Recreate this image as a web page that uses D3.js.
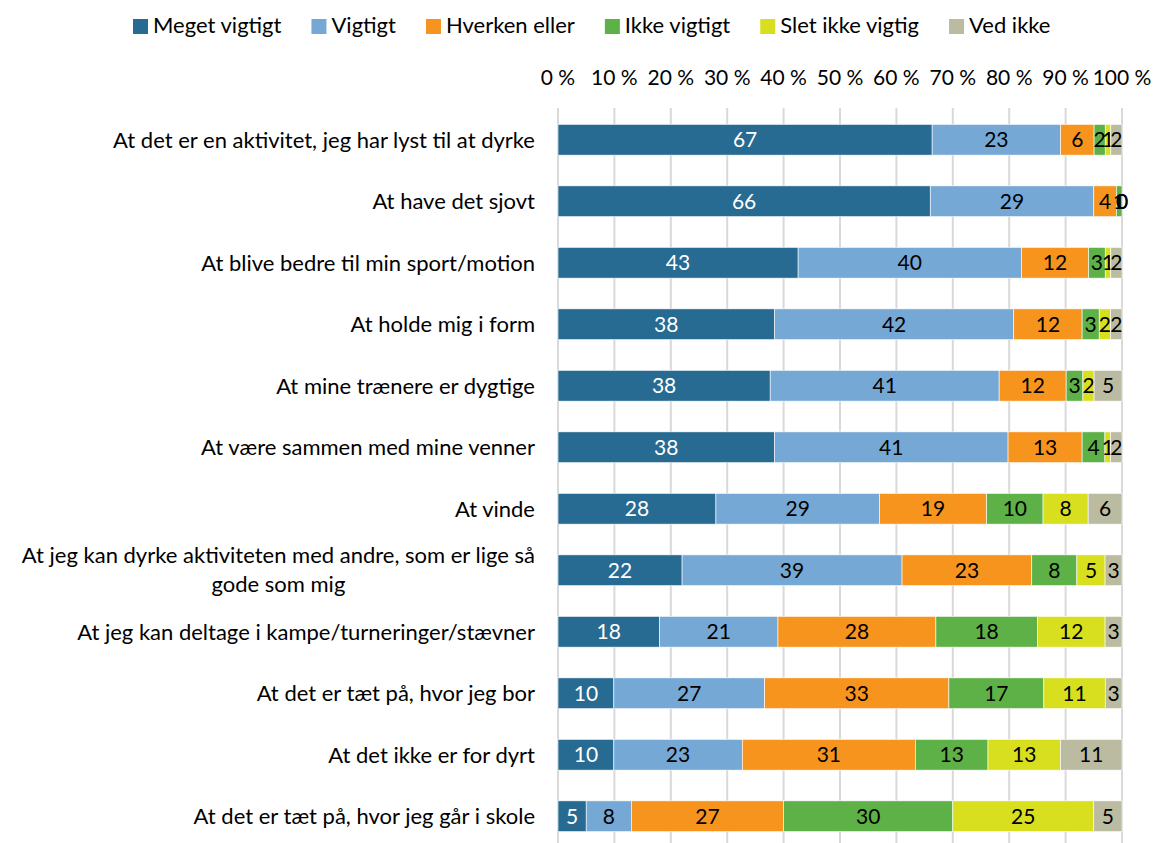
<!DOCTYPE html>
<html>
<head>
<meta charset="utf-8">
<script src="https://cdn.jsdelivr.net/npm/d3@7"></script>
<style>
	body { margin: 0; background: #fff; }
	svg text { font-family: Lato, "Open Sans", sans-serif; }
</style>
</head>
<body>
<div id="chart"></div>
<script>
var categories = [
	"At det er en aktivitet, jeg har lyst til at dyrke",
	"At have det sjovt",
	"At blive bedre til min sport/motion",
	"At holde mig i form",
	"At mine trænere er dygtige",
	"At være sammen med mine venner",
	"At vinde",
	"At jeg kan dyrke aktiviteten med andre, som er lige så|gode som mig",
	"At jeg kan deltage i kampe/turneringer/stævner",
	"At det er tæt på, hvor jeg bor",
	"At det ikke er for dyrt",
	"At det er tæt på, hvor jeg går i skole"
];
var seriesNames = ["Meget vigtigt", "Vigtigt", "Hverken eller", "Ikke vigtigt", "Slet ikke vigtig", "Ved ikke"];
var colors = ["#276a92", "#76a8d6", "#f7941d", "#5eb146", "#d8df1f", "#bbbba2"];

var megetVigtigt = [67, 66, 43, 38, 38, 38, 28, 22, 18, 10, 10, 5];
var vigtigt      = [23, 29, 40, 42, 41, 41, 29, 39, 21, 27, 23, 8];
var hverkenEller = [6, 4, 12, 12, 12, 13, 19, 23, 28, 33, 31, 27];
var ikkeVigtigt  = [2, 1, 3, 3, 3, 4, 10, 8, 18, 17, 13, 30];
var sletIkke     = [1, 0, 1, 2, 2, 1, 8, 5, 12, 11, 13, 25];
var vedIkke      = [2, 0, 2, 2, 5, 2, 6, 3, 3, 3, 11, 5];
var tickLabels = ["0 %", "10 %", "20 %", "30 %", "40 %", "50 %", "60 %", "70 %", "80 %", "90 %", "100 %"];

var allSeries = [megetVigtigt, vigtigt, hverkenEller, ikkeVigtigt, sletIkke, vedIkke];

var rows = categories.map(function(c, i) {
	var r = { cat: c };
	seriesNames.forEach(function(s, j) { r[s] = allSeries[j][i]; });
	return r;
});

var width = 1156, height = 843;
var svg = d3.select("#chart").append("svg")
	.attr("width", width)
	.attr("height", height);

var x = d3.scaleLinear().domain([0, 1]).range([558, 1122]);
var y = d3.scaleBand().domain(categories).range([109, 847]).paddingInner(0.5).paddingOuter(0.25);

// gridlines
svg.append("g").selectAll("line")
	.data(d3.range(0, 11))
	.enter().append("line")
	.attr("x1", function(d) { return x(d / 10); })
	.attr("x2", function(d) { return x(d / 10); })
	.attr("y1", 108)
	.attr("y2", height)
	.style("stroke", "#d9d9d9")
	.style("stroke-width", 2);

// top axis labels
svg.append("g").selectAll("text")
	.data(tickLabels)
	.enter().append("text")
	.attr("x", function(d, i) { return x(i / 10); })
	.attr("y", 85)
	.attr("text-anchor", "middle")
	.style("font-size", "21px")
	.style("fill", "#000")
	.text(function(d) { return d; });

var stack = d3.stack().keys(seriesNames).offset(d3.stackOffsetExpand);
var stacked = stack(rows);

var groups = svg.append("g").selectAll("g")
	.data(stacked)
	.enter().append("g")
	.attr("data-series", function(d) { return d.key; });

groups.each(function(s, si) {
	var g = d3.select(this);
	g.selectAll("rect")
		.data(s)
		.enter().append("rect")
		.attr("x", function(d) { return x(d[0]); })
		.attr("y", function(d) { return y(d.data.cat); })
		.attr("width", function(d) { return Math.max(0, x(d[1]) - x(d[0])); })
		.attr("height", y.bandwidth())
		.style("fill", colors[si])
		.style("stroke", "#fff")
		.style("stroke-width", 0.6);
});

groups.each(function(s, si) {
	d3.select(this).selectAll("text")
		.data(s)
		.enter().append("text")
		.attr("x", function(d) { return (x(d[0]) + x(d[1])) / 2; })
		.attr("y", function(d) { return y(d.data.cat) + y.bandwidth() / 2; })
		.attr("dy", "0.36em")
		.attr("text-anchor", "middle")
		.style("font-size", "21px")
		.style("fill", si === 0 ? "#fff" : "#000")
		.text(function(d) { return d.data[s.key]; });
});

// category labels
var catG = svg.append("g").selectAll("text")
	.data(categories)
	.enter().append("text")
	.attr("text-anchor", "end")
	.style("font-size", "22px")
	.style("fill", "#000")
	.attr("x", 535)
	.attr("y", function(d) { return y(d) + y.bandwidth() / 2; });

catG.each(function(d) {
	var parts = d.split("|");
	var t = d3.select(this);
	if (parts.length === 1) {
		t.attr("dy", "0.36em").text(d);
	} else {
		t.attr("dy", "-0.35em").text(parts[0]);
		var w = this.getComputedTextLength();
		t.append("tspan")
			.attr("x", 535 - w / 2)
			.attr("dy", "1.35em")
			.attr("text-anchor", "middle")
			.text(parts[1]);
	}
});

// legend
var legend = svg.append("g").attr("transform", "translate(0,17)");
var lx = 133;
seriesNames.forEach(function(name, i) {
	var item = legend.append("g").attr("transform", "translate(" + lx + ",0)");
	item.append("rect")
		.attr("y", 2)
		.attr("width", 15).attr("height", 15)
		.style("fill", colors[i]);
	var t = item.append("text")
		.attr("x", 20).attr("y", 16)
		.style("font-size", "22px")
		.style("fill", "#000")
		.text(name);
	lx += 20 + t.node().getComputedTextLength() + 30;
});
</script>
</body>
</html>
